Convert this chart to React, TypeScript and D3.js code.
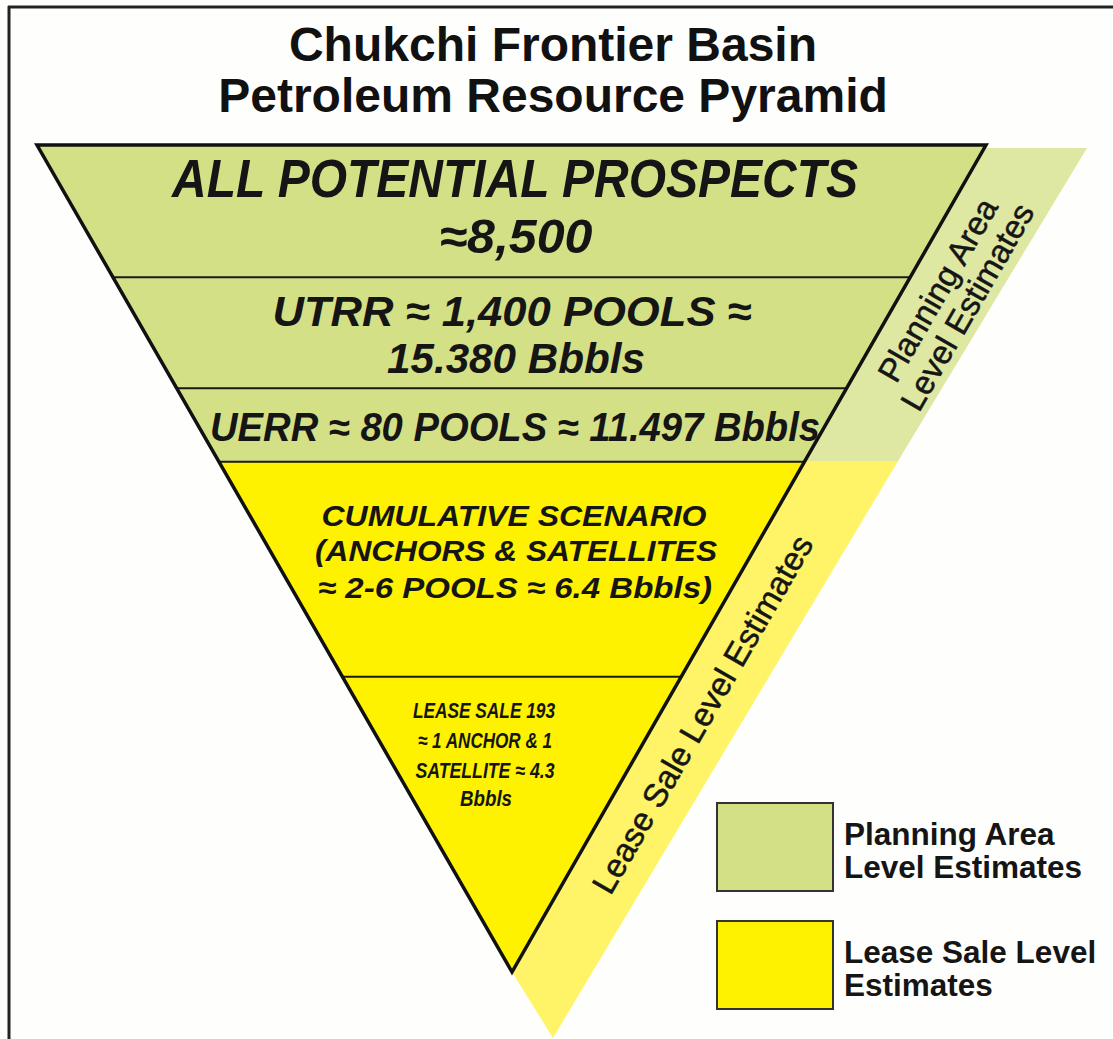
import React from "react";
import * as d3 from "d3";

const W = 1113;
const H = 1039;

const titleLines = ["Chukchi Frontier Basin", "Petroleum Resource Pyramid"];

// tiers of the pyramid, depth 0 = top edge, 1 = apex
const tierNames = ["All potential prospects", "UTRR", "UERR", "Cumulative scenario", "Lease sale 193"];
const tierTop = [0, 0.16, 0.294, 0.383, 0.643];
const tierBottom = [0.16, 0.294, 0.383, 0.643, 1];
const tierCategory = ["planning", "planning", "planning", "lease", "lease"];
const tierLabels = [
  ["ALL POTENTIAL PROSPECTS", "≈8,500"],
  ["UTRR ≈ 1,400 POOLS ≈", "15.380 Bbbls"],
  ["UERR ≈ 80 POOLS ≈ 11.497 Bbbls"],
  ["CUMULATIVE SCENARIO", "(ANCHORS & SATELLITES", "≈ 2-6 POOLS ≈ 6.4 Bbbls)"],
  ["LEASE SALE 193", "≈ 1 ANCHOR & 1", "SATELLITE ≈ 4.3", "Bbbls"],
];

// side band segments (depth ranges)
const bandCategory = ["planning", "lease"];
const bandTop = [0, 0.383];
const bandBottom = [0.383, 1.08];
const bandLabels = [["Planning Area", "Level Estimates"], ["Lease Sale Level Estimates"]];

const legendCategories = ["planning", "lease"];
const legendLabels = [["Planning Area", "Level Estimates"], ["Lease Sale Level", "Estimates"]];

// ---------- styles / layout (not data) ----------
const pyramidFill: Record<string, string> = { planning: "#d4e086", lease: "#fff200" };
const bandFill: Record<string, string> = { planning: "#dfe8a3", lease: "#fff367" };

const tierTextStyle = [
  [
    { x: 515, y: 197, size: 54, len: 686 },
    { x: 516, y: 253, size: 48, len: 153 },
  ],
  [
    { x: 512, y: 326, size: 43, len: 479 },
    { x: 516, y: 373, size: 43, len: 258 },
  ],
  [{ x: 515, y: 441, size: 40, len: 610 }],
  [
    { x: 514, y: 526, size: 30, len: 385 },
    { x: 516, y: 561, size: 30, len: 402 },
    { x: 515, y: 598, size: 30, len: 394 },
  ],
  [
    { x: 484, y: 718, size: 22, len: 142 },
    { x: 485, y: 748, size: 22, len: 134 },
    { x: 485, y: 778, size: 22, len: 139 },
    { x: 486, y: 806, size: 22, len: 52 },
  ],
];

const FONT = "'Liberation Sans', Arial, Helvetica, sans-serif";

export default function App() {
  const y = d3.scaleLinear().domain([0, 1]).range([145, 972]);
  const xLeft = d3.scaleLinear().domain([0, 1]).range([37, 512]);
  const xRight = d3.scaleLinear().domain([0, 1]).range([986, 512]);
  const xOuter = d3.scaleLinear().domain([0, 1.08]).range([1087, 553]);
  const yBand = d3.scaleLinear().domain([0, 1.08]).range([148, 1038]);

  const line = d3.line<[number, number]>();

  const tierPath = (i: number) => {
    const a = tierTop[i];
    const b = tierBottom[i];
    const pts: [number, number][] =
      b >= 1
        ? [
            [xLeft(a), y(a)],
            [xRight(a), y(a)],
            [xRight(1), y(1)],
          ]
        : [
            [xLeft(a), y(a)],
            [xRight(a), y(a)],
            [xRight(b), y(b)],
            [xLeft(b), y(b)],
          ];
    return line(pts) + "Z";
  };

  const bandPath = (i: number) => {
    const a = bandTop[i];
    const b = bandBottom[i];
    let pts: [number, number][];
    if (b > 1) {
      pts = [
        [xRight(a), y(a)],
        [xOuter(a), y(a)],
        [xOuter(b), yBand(b)],
        [xRight(1), y(1)],
      ];
    } else {
      pts = [
        [xRight(a), a === 0 ? yBand(0) : y(a)],
        [xOuter(a), a === 0 ? yBand(0) : y(a)],
        [xOuter(b), y(b)],
        [xRight(b), y(b)],
      ];
    }
    return line(pts) + "Z";
  };

  const outline: [number, number][] = [
    [xLeft(0), y(0)],
    [xRight(0), y(0)],
    [xRight(1), y(1)],
  ];

  return (
    <svg
      width={W}
      height={H}
      viewBox={`0 0 ${W} ${H}`}
      style={{ position: "absolute", left: 0, top: 0, display: "block", background: "#fefefc" }}
    >
      {/* frame */}
      <line x1={8} y1={7} x2={W} y2={7} stroke="#222" strokeWidth={3} />
      <line x1={9} y1={6} x2={9} y2={H} stroke="#222" strokeWidth={3} />

      {/* title */}
      {titleLines.map((t, i) => (
        <text
          key={t}
          x={553}
          y={61 + i * 51}
          textAnchor="middle"
          fontFamily={FONT}
          fontWeight="bold"
          fontSize={48}
          fill="#111"
        >
          {t}
        </text>
      ))}

      {/* side band */}
      {bandCategory.map((c, i) => (
        <path key={"band" + i} d={bandPath(i)} fill={bandFill[c]} />
      ))}

      {/* tiers */}
      {tierNames.map((n, i) => (
        <path key={n} d={tierPath(i)} fill={pyramidFill[tierCategory[i]]} />
      ))}
      {tierBottom.slice(0, -1).map((b, i) => (
        <line
          key={"div" + i}
          x1={xLeft(b)}
          x2={xRight(b)}
          y1={y(b)}
          y2={y(b)}
          stroke="#1a1a1a"
          strokeWidth={2}
        />
      ))}
      <path d={line(outline) + "Z"} fill="none" stroke="#111" strokeWidth={3.5} strokeLinejoin="miter" />

      {/* tier labels */}
      {tierLabels.map((lines, i) =>
        lines.map((t, j) => {
          const s = tierTextStyle[i][j];
          return (
            <text
              key={i + "-" + j}
              x={s.x}
              y={s.y}
              textAnchor="middle"
              fontFamily={FONT}
              fontWeight="bold"
              fontStyle="italic"
              fontSize={s.size}
              textLength={s.len}
              lengthAdjust="spacingAndGlyphs"
              fill="#151515"
            >
              {t}
            </text>
          );
        })
      )}

      {/* band labels */}
      <g transform="translate(952,298) rotate(-60)">
        {bandLabels[0].map((t, j) => (
          <text
            key={t}
            x={0}
            y={-5 + j * 34}
            textAnchor="middle"
            fontFamily={FONT}
            fontSize={33}
            stroke="#151515"
            strokeWidth={0.5}
            fill="#151515"
          >
            {t}
          </text>
        ))}
      </g>
      <g transform="translate(702,714) rotate(-60)">
        <text
          x={0}
          y={12}
          textAnchor="middle"
          fontFamily={FONT}
          fontSize={33}
          stroke="#151515"
          strokeWidth={0.5}
          fill="#151515"
        >
          {bandLabels[1][0]}
        </text>
      </g>

      {/* legend */}
      {legendCategories.map((c, i) => (
        <g key={c} transform={`translate(717,${803 + i * 118})`}>
          <rect x={0} y={0} width={116} height={88} fill={pyramidFill[c]} stroke="#333" strokeWidth={2} />
          {legendLabels[i].map((t, j) => (
            <text
              key={t}
              x={127}
              y={42 + j * 33}
              fontFamily={FONT}
              fontWeight="bold"
              fontSize={31.5}
              fill="#151515"
            >
              {t}
            </text>
          ))}
        </g>
      ))}
    </svg>
  );
}
